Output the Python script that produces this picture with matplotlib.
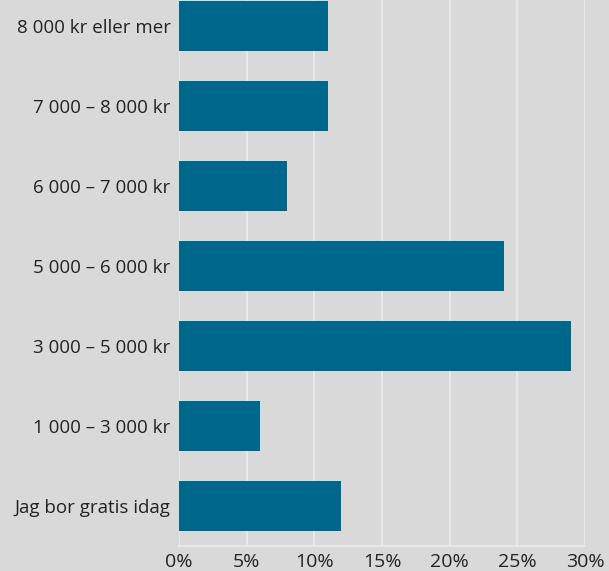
import matplotlib.pyplot as plt
import numpy as np

categories = ['Jag bor gratis idag', '1 000 – 3 000 kr', '3 000 – 5 000 kr',
              '5 000 – 6 000 kr', '6 000 – 7 000 kr', '7 000 – 8 000 kr',
              '8 000 kr eller mer']
values = [12, 6, 29, 24, 8, 11, 11]
xticks = [0, 5, 10, 15, 20, 25, 30]

bg = '#d9d9d9'
bar_color = '#00678c'
grid_color = '#ececec'

plt.rcParams['font.family'] = ['Open Sans', 'DejaVu Sans']

fig = plt.figure(figsize=(6.09, 5.71), dpi=100, facecolor=bg)
ax = fig.add_axes([179/609, 25/571, 406/609, 546/571])
ax.set_facecolor(bg)

y = np.arange(len(categories))
ax.barh(y, values, height=0.625, color=bar_color, zorder=3)

ax.set_xlim(0, 30)
ax.set_ylim(-0.5, 6.5 - 14/80)
ax.set_xticks(xticks)
ax.set_xticklabels([f'{t}%' for t in xticks])
ax.set_yticks(y)
ax.set_yticklabels(categories)

ax.grid(axis='x', color=grid_color, linewidth=1.2, zorder=1)
for s in ['top', 'right', 'left']:
    ax.spines[s].set_visible(False)
ax.spines['bottom'].set_color(grid_color)
ax.spines['bottom'].set_linewidth(1.2)
ax.tick_params(length=0, colors='#222222')
ax.tick_params(axis='x', labelsize=14, pad=5)
ax.tick_params(axis='y', labelsize=13.5, pad=6)

fig.savefig('out.png', dpi=100, facecolor=bg)
